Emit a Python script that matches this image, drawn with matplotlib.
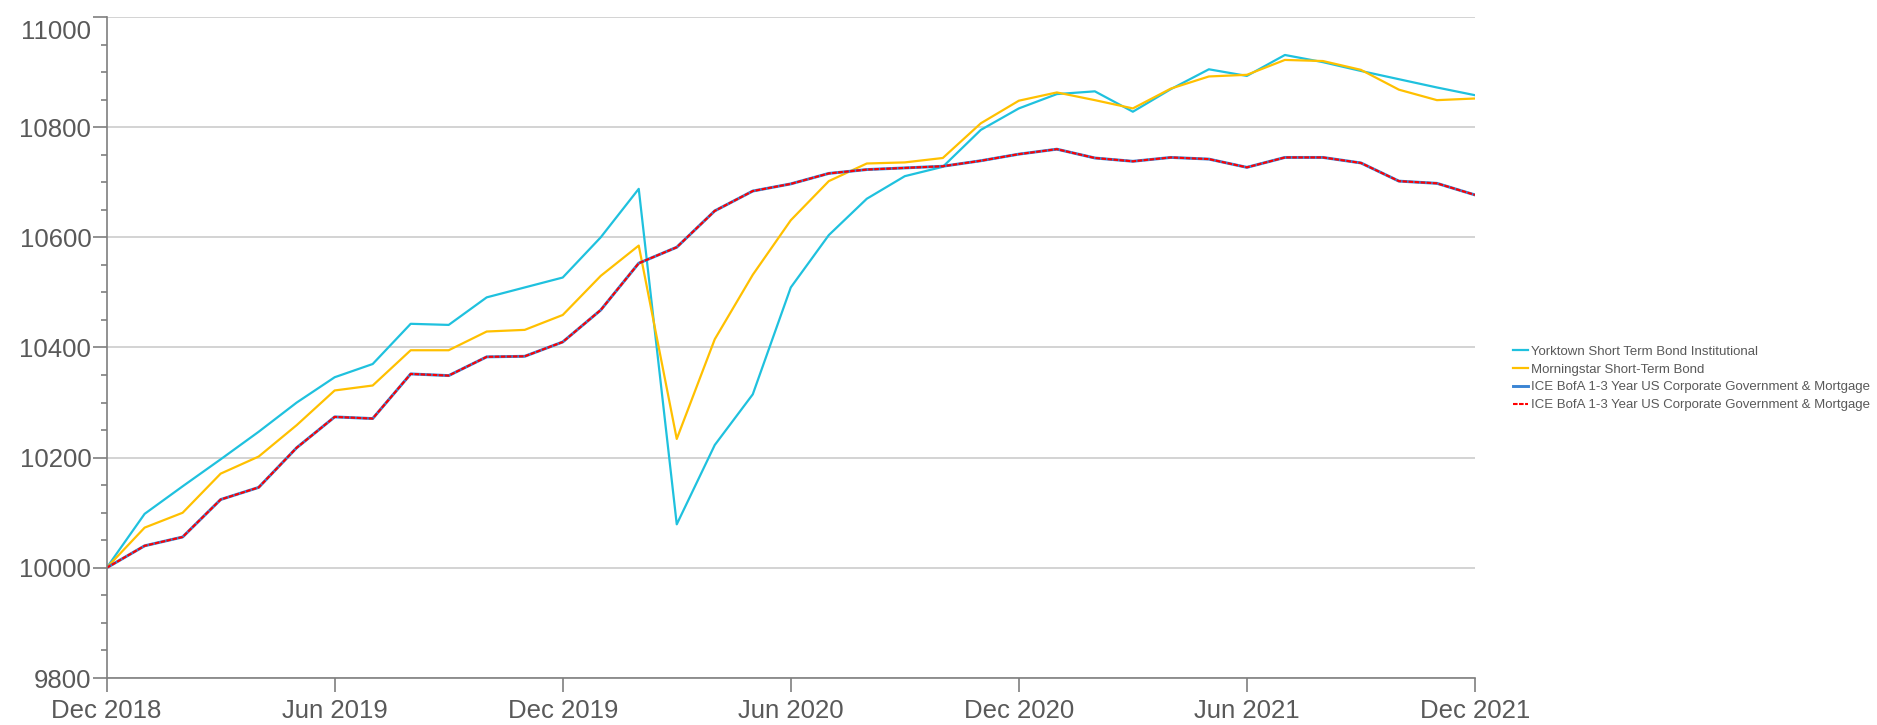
import matplotlib.pyplot as plt
from matplotlib.ticker import MultipleLocator
from matplotlib.transforms import ScaledTranslation

plt.rcParams['font.family'] = ['Liberation Sans', 'DejaVu Sans']

# monthly growth of 10000, Dec 2018 .. Dec 2021
yorktown = [10000, 10098, 10148, 10197, 10247, 10300, 10346, 10370, 10443, 10441,
            10491, 10509, 10527, 10600, 10688, 10079, 10223, 10315, 10509, 10604,
            10670, 10711, 10728, 10795, 10834, 10860, 10865, 10828, 10869, 10905,
            10893, 10931, 10918, 10902, 10887, 10872, 10858]
morningstar = [10000, 10073, 10100, 10171, 10202, 10259, 10322, 10331, 10395, 10395,
               10429, 10432, 10459, 10530, 10585, 10234, 10415, 10532, 10631, 10702,
               10734, 10736, 10744, 10807, 10848, 10863, 10849, 10834, 10870, 10892,
               10895, 10922, 10920, 10904, 10868, 10849, 10852]
ice_index = [10000, 10040, 10056, 10124, 10146, 10218, 10274, 10271, 10352, 10349,
             10383, 10384, 10410, 10468, 10553, 10582, 10648, 10684, 10697, 10716,
             10723, 10726, 10729, 10739, 10751, 10760, 10744, 10738, 10745, 10742,
             10727, 10745, 10745, 10735, 10702, 10698, 10677]
tick_labels = ['Dec 2018', 'Jun 2019', 'Dec 2019', 'Jun 2020', 'Dec 2020', 'Jun 2021', 'Dec 2021']

months = list(range(len(yorktown)))
ice_name = 'ICE BofA 1-3 Year US Corporate Government & Mortgage'

fig = plt.figure(figsize=(18.77, 7.25), dpi=100)
ax = fig.add_axes([0.0568, 0.0648, 0.7290, 0.9118])

ax.plot(months, yorktown, color='#1FC1DE', lw=1.6, label='Yorktown Short Term Bond Institutional')
ax.plot(months, morningstar, color='#FFC000', lw=1.6, label='Morningstar Short-Term Bond')
ax.plot(months, ice_index, color='#3A84D4', lw=2.1, label=ice_name)
ax.plot(months, ice_index, color='#FF0000', lw=1.5, ls=(0, (2.2, 0.7)), label=ice_name)

ax.set_xlim(0, 36)
ax.set_ylim(9800, 11000)
ax.set_xticks(range(0, 37, 6))
ax.set_xticklabels(tick_labels)
ax.yaxis.set_major_locator(MultipleLocator(200))
ax.yaxis.set_minor_locator(MultipleLocator(50))

ax.grid(axis='y', color='#D0D0D0', lw=1.3)
ax.set_axisbelow(True)
for s in ['top', 'right']:
    ax.spines[s].set_visible(False)
for s in ['left', 'bottom']:
    ax.spines[s].set_color('#7F7F7F')
    ax.spines[s].set_linewidth(1.2)

ax.tick_params(axis='both', which='major', colors='#7F7F7F', labelcolor='#595959',
               labelsize=18.5, length=10, width=1.2)
ax.tick_params(axis='y', which='minor', colors='#7F7F7F', length=4, width=1.2)
ax.tick_params(axis='x', pad=5)
ax.tick_params(axis='y', pad=1)

# top label sits a bit lower so it stays inside the image
fig.canvas.draw()
for t in ax.yaxis.get_major_ticks():
    if abs(t.get_loc() - 11000) < 1:
        lab = t.label1
        lab.set_transform(lab.get_transform() + ScaledTranslation(0, -9 / 72, fig.dpi_scale_trans))

leg = fig.legend(loc='center left', bbox_to_anchor=(0.8, 0.478), frameon=False,
                 fontsize=9.5, handlelength=1.1, handletextpad=0.25,
                 labelspacing=0.42, labelcolor='#595959')

plt.savefig('out.png', dpi=100)
